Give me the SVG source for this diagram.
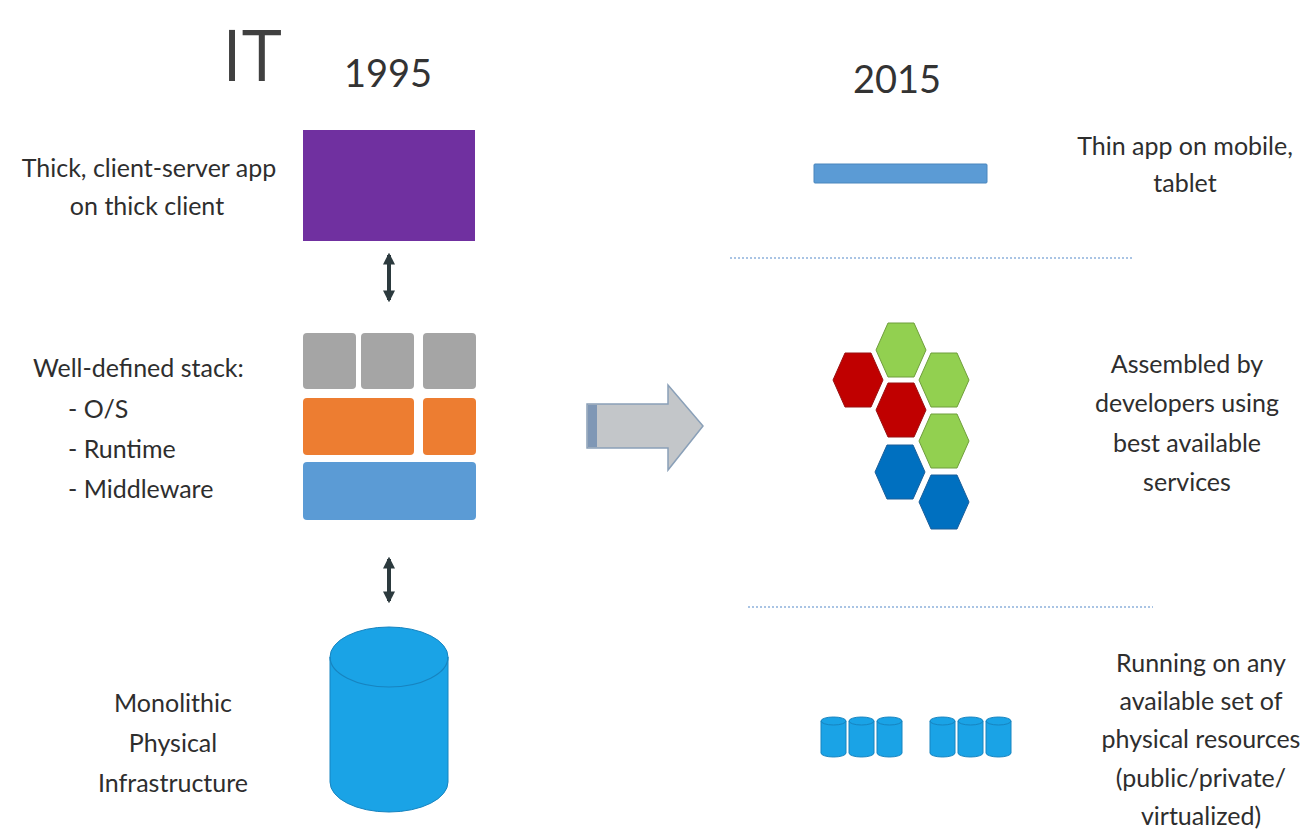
<svg xmlns="http://www.w3.org/2000/svg" width="1302" height="836" viewBox="0 0 1302 836">
<style>
.lbl{font-family:Lato,"Open Sans","Liberation Sans",sans-serif;font-size:25px;fill:#2e2e2e}
.c{text-anchor:middle}
.yr{font-family:Lato,"Open Sans","Liberation Sans",sans-serif;font-size:38px;fill:#333;text-anchor:middle}
.hexr{fill:#C00000;stroke:#9a1010;stroke-width:1}
.hexg{fill:#92D050;stroke:#6f9e3c;stroke-width:1}
.hexb{fill:#0070C0;stroke:#1a5e9a;stroke-width:1}
.cyl{fill:#1AA3E6;stroke:#1784c0;stroke-width:1}
.dot{stroke:#a9c4e4;stroke-width:2;stroke-dasharray:2 2}
</style>
<defs>
<marker id="ah" viewBox="0 0 10 10" refX="8" refY="5" markerWidth="3" markerHeight="3" orient="auto-start-reverse">
<path d="M0,0 L10,5 L0,10 z" fill="#2c3a3e"/>
</marker>
<polygon id="hex" points="-25,0 -13,-27 13,-27 25,0 13,27 -13,27"/>
<g id="sc">
<path d="M0,4 a12.5,4 0 0 1 25,0 v32 a12.5,4 0 0 1 -25,0 z" class="cyl"/>
<path d="M0,4 a12.5,4 0 0 0 25,0" fill="none" stroke="#1784c0" stroke-width="1"/>
</g>
</defs>
<rect width="1302" height="836" fill="#ffffff"/>

<text x="222" y="81" font-family="'Open Sans',Lato,sans-serif" font-size="72" fill="#404040">IT</text>
<text class="yr" x="388" y="87">1995</text>
<text class="yr" x="897" y="93">2015</text>

<g id="label-thick">
<text class="lbl c" x="149" y="177">Thick, client-server app</text>
<text class="lbl c" x="147" y="215">on thick client</text>
</g>
<g id="label-stack">
<text class="lbl" x="33" y="377">Well-defined stack:</text>
<text class="lbl" x="68" y="418">- O/S</text>
<text class="lbl" x="68" y="458">- Runtime</text>
<text class="lbl" x="68" y="498">- Middleware</text>
</g>
<g id="label-mono">
<text class="lbl c" x="173" y="712">Monolithic</text>
<text class="lbl c" x="173" y="752">Physical</text>
<text class="lbl c" x="173" y="792">Infrastructure</text>
</g>

<g id="thick-client"><rect x="303" y="130" width="172" height="111" fill="#7030A0"/></g>
<g id="stack">
<rect x="303" y="333" width="53" height="56" rx="4" fill="#A5A5A5"/>
<rect x="361" y="333" width="53" height="56" rx="4" fill="#A5A5A5"/>
<rect x="423" y="333" width="53" height="56" rx="4" fill="#A5A5A5"/>
<rect x="303" y="398" width="111" height="57" rx="4" fill="#ED7D31"/>
<rect x="423" y="398" width="53" height="57" rx="4" fill="#ED7D31"/>
<rect x="303" y="462" width="173" height="58" rx="4" fill="#5B9BD5"/>
</g>
<g id="infra">
<path d="M330,657 a59,30 0 0 1 118,0 v125 a59,30 0 0 1 -118,0 z" class="cyl"/>
<path d="M330,657 a59,30 0 0 0 118,0" fill="none" stroke="#1784c0" stroke-width="1.2"/>
</g>

<g id="connectors">
<line x1="389" y1="255" x2="389" y2="300" stroke="#2c3a3e" stroke-width="4" marker-start="url(#ah)" marker-end="url(#ah)"/>
<line x1="389" y1="559" x2="389" y2="601" stroke="#2c3a3e" stroke-width="4" marker-start="url(#ah)" marker-end="url(#ah)"/>
</g>

<g id="big-arrow">
<polygon points="587,404 668,404 668,385 703,426 668,470 668,448 587,448" fill="#C3C6C9" stroke="#8aa0b8" stroke-width="1.5"/>
<rect x="588" y="405" width="9" height="42" fill="#7f97b5"/>
</g>

<g id="thin-app"><rect x="814" y="164" width="173" height="19" rx="1" fill="#5B9BD5" stroke="#4a86bd" stroke-width="1"/></g>
<g id="dividers">
<line x1="730" y1="258" x2="1133" y2="258" class="dot"/>
<line x1="748" y1="607" x2="1153" y2="607" class="dot"/>
</g>

<g id="services">
<use href="#hex" x="901" y="350" class="hexg"/>
<use href="#hex" x="858" y="380" class="hexr"/>
<use href="#hex" x="944" y="380" class="hexg"/>
<use href="#hex" x="901" y="410" class="hexr"/>
<use href="#hex" x="944" y="441" class="hexg"/>
<use href="#hex" x="900" y="472" class="hexb"/>
<use href="#hex" x="944" y="502" class="hexb"/>
</g>

<g id="resources">
<use href="#sc" x="821" y="717"/>
<use href="#sc" x="849" y="717"/>
<use href="#sc" x="877" y="717"/>
<use href="#sc" x="930" y="717"/>
<use href="#sc" x="958" y="717"/>
<use href="#sc" x="986" y="717"/>
</g>

<g id="label-thin">
<text class="lbl c" x="1185" y="155">Thin app on mobile,</text>
<text class="lbl c" x="1185" y="192">tablet</text>
</g>
<g id="label-assembled">
<text class="lbl c" x="1187" y="373">Assembled by</text>
<text class="lbl c" x="1187" y="412">developers using</text>
<text class="lbl c" x="1187" y="452">best available</text>
<text class="lbl c" x="1187" y="491">services</text>
</g>
<g id="label-running">
<text class="lbl c" x="1201" y="672">Running on any</text>
<text class="lbl c" x="1201" y="710">available set of</text>
<text class="lbl c" x="1201" y="748">physical resources</text>
<text class="lbl c" x="1201" y="787">(public/private/</text>
<text class="lbl c" x="1201" y="825">virtualized)</text>
</g>
</svg>
